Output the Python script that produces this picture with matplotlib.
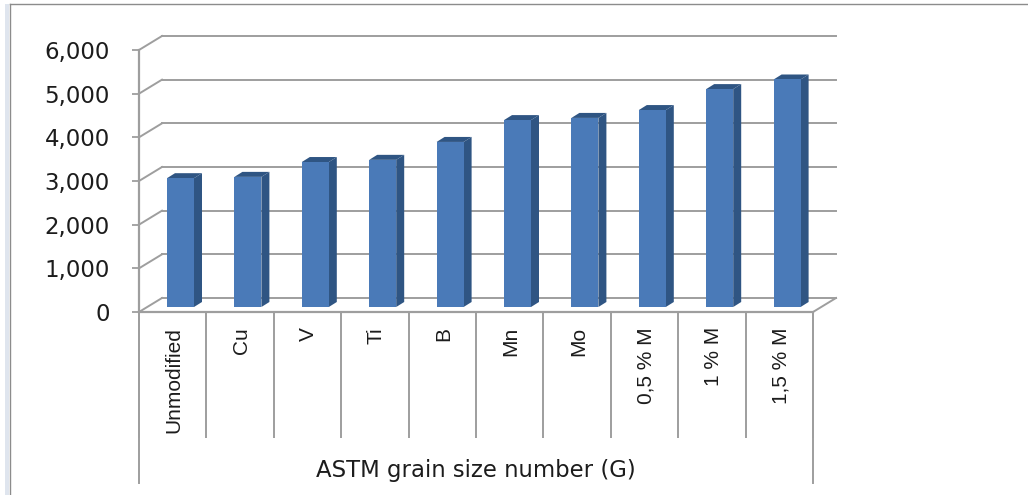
"""3D-look column chart of ASTM grain size number per modifier."""

import matplotlib
matplotlib.use("Agg")
import matplotlib.pyplot as plt
from matplotlib.lines import Line2D
from matplotlib.patches import Polygon, Rectangle
from matplotlib.ticker import FixedLocator, StrMethodFormatter

categories = ["Unmodified", "Cu", "V", "Ti", "B", "Mn", "Mo",
              "0,5 % M", "1 % M", "1,5 % M"]
grain_size = [2950, 2980, 3320, 3370, 3780, 4280, 4330, 4510, 4990, 5210]
y_ticks = [0, 1000, 2000, 3000, 4000, 5000, 6000]
x_title = "ASTM grain size number (G)"

W, H = 1028, 495
DPI = 100
GRID = "#9e9e9e"
FRONT = "#4a7ab8"
DARK = "#2f5583"
TEXT = "#1c1c1c"

# plot box in pixels (front plane of the fake 3D box)
LEFT, RIGHT, TOP, BOTTOM = 139, 813, 50, 312
PX_X = 10 / (RIGHT - LEFT)
PX_Y = 6000 / (BOTTOM - TOP)

# depth of the box and of each bar, in data units
WALL_DX, WALL_DY = 23 * PX_X, 14 * PX_Y
BAR_DX, BAR_DY = 8 * PX_X, 5 * PX_Y
BAR_W = 27 * PX_X
BAR_SHIFT = 28 * PX_X
BAR_BASE = 5 * PX_Y

fig = plt.figure(figsize=(W / DPI, H / DPI), dpi=DPI)
ax = fig.add_axes([LEFT / W, 1 - BOTTOM / H, (RIGHT - LEFT) / W, (BOTTOM - TOP) / H])
ax.set_xlim(0, 10)
ax.set_ylim(0, 6000)
for spine in ax.spines.values():
    spine.set_visible(False)
ax.patch.set_visible(False)

# back wall gridlines and the slanted side wall
for v in y_ticks:
    ax.plot([WALL_DX, 10 + WALL_DX], [v + WALL_DY, v + WALL_DY], color=GRID,
            lw=1.4, clip_on=False, zorder=1)
    ax.plot([0, WALL_DX], [v, v + WALL_DY], color=GRID, lw=1.4, clip_on=False, zorder=1)
ax.plot([10, 10 + WALL_DX], [0, WALL_DY], color=GRID, lw=1.4, clip_on=False, zorder=1)
ax.plot([0, 10], [0, 0], color=GRID, lw=1.6, clip_on=False, zorder=2)
ax.plot([0, 0], [0, 6000], color=GRID, lw=1.6, clip_on=False, zorder=2)

# the columns: front face from bar(), side and top faces added as polygons
for i, v in enumerate(grain_size):
    x0 = i + BAR_SHIFT
    x1 = x0 + BAR_W
    top = BAR_BASE + v
    ax.bar(x0, v, width=BAR_W, bottom=BAR_BASE, align="edge", color=FRONT,
           linewidth=0, clip_on=False, zorder=4)
    ax.add_patch(Polygon([(x1, BAR_BASE), (x1 + BAR_DX, BAR_BASE + BAR_DY),
                          (x1 + BAR_DX, top + BAR_DY), (x1, top)],
                         facecolor=DARK, linewidth=0, clip_on=False, zorder=3))
    ax.add_patch(Polygon([(x0, top), (x1, top), (x1 + BAR_DX, top + BAR_DY),
                          (x0 + BAR_DX, top + BAR_DY)],
                         facecolor=DARK, linewidth=0, clip_on=False, zorder=3))

ax.yaxis.set_major_locator(FixedLocator(y_ticks))
ax.yaxis.set_major_formatter(StrMethodFormatter("{x:,.0f}"))
ax.tick_params(axis="y", length=7 * 0.72, width=1.3, color=GRID, pad=22 * 0.72,
               labelsize=16.5, labelcolor=TEXT)

# separators are long x ticks, labels sit on minor ticks between them
ax.set_xticks(range(0, 11))
ax.set_xticklabels([])
ax.set_xticks([i + 0.52 for i in range(len(categories))], minor=True)
ax.set_xticklabels(categories, minor=True, rotation=90, fontsize=15,
                   family="Liberation Sans", color=TEXT, ha="center", va="top")
ax.tick_params(axis="x", which="major", length=126 * 0.72, width=1.4, color=GRID)
ax.tick_params(axis="x", which="minor", length=0, pad=15 * 0.72)

# outer ends of the multi-level category axis
for x in (0, 1):
    ax.plot([x, x], [0, -171 / (BOTTOM - TOP)], transform=ax.transAxes, color=GRID,
            lw=1.4, clip_on=False, zorder=2)

ax.text(0.5, -158 / (BOTTOM - TOP), x_title, transform=ax.transAxes, ha="center",
        va="center", fontsize=16.4, family="DejaVu Sans", color=TEXT)

# frame of the original screenshot
fig.add_artist(Rectangle((5 / W, 0), 4 / W, 1 - 4 / H, transform=fig.transFigure,
                         facecolor="#dfe5ee", linewidth=0))
fig.add_artist(Line2D([10 / W, 10 / W], [0, 1 - 4 / H], color="#8c8c8c", lw=1.0))
fig.add_artist(Line2D([10 / W, 1], [1 - 4 / H, 1 - 4 / H], color="#8c8c8c", lw=1.0))

fig.savefig("out.png", dpi=DPI)
plt.close(fig)
